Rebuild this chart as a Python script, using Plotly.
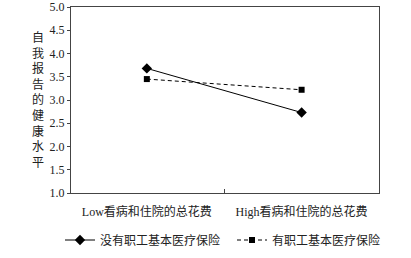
import plotly.graph_objects as go

categories = ["Low看病和住院的总花费", "High看病和住院的总花费"]
no_insurance = [3.68, 2.73]
with_insurance = [3.45, 3.22]
series_names = ["没有职工基本医疗保险", "有职工基本医疗保险"]
y_title = "自我报告的健康水平"
y_ticks = [1.0, 1.5, 2.0, 2.5, 3.0, 3.5, 4.0, 4.5, 5.0]

FONT = "Liberation Serif, Times New Roman, Noto Sans CJK SC, serif"

fig = go.Figure()
fig.add_trace(go.Scatter(
    x=categories, y=no_insurance, name=series_names[0], mode="lines+markers",
    line=dict(color="black", width=1),
    marker=dict(symbol="diamond", size=8, color="black"),
    legend="legend",
))
fig.add_trace(go.Scatter(
    x=categories, y=with_insurance, name=series_names[1], mode="lines+markers",
    line=dict(color="black", width=1, dash="4px,3px"),
    marker=dict(symbol="square", size=6, color="black"),
    legend="legend2",
))

leg_common = dict(orientation="h", xanchor="left", yanchor="middle",
                  xref="container", yref="container",
                  font=dict(size=12), bgcolor="rgba(0,0,0,0)")

fig.update_layout(
    width=411, height=258,
    margin=dict(l=71, r=32, t=7, b=65, autoexpand=False),
    paper_bgcolor="white", plot_bgcolor="white",
    font=dict(family=FONT, size=12, color="#222"),
    showlegend=True,
    legend=dict(x=60/411, y=(258-240)/258, **leg_common),
    legend2=dict(x=232/411, y=(258-240)/258, **leg_common),
    xaxis=dict(
        type="category", range=[-0.49, 1.5],
        showline=True, linecolor="#444", linewidth=1, mirror=True,
        ticks="inside", ticklen=4, tickcolor="#444", tickson="boundaries",
        showgrid=False, tickfont=dict(size=12), ticklabelstandoff=8,
    ),
    yaxis=dict(
        range=[1.0, 5.0], tickvals=y_ticks, ticktext=[f"{v:.1f}" for v in y_ticks],
        showline=True, linecolor="#444", linewidth=1, mirror=True,
        ticks="outside", ticklen=3, tickcolor="#444",
        showgrid=False, zeroline=False, tickfont=dict(size=12),
    ),
)

fig.add_annotation(
    text="<br>".join(list(y_title)), xref="paper", yref="paper",
    x=-0.106, y=0.5, xanchor="center", yanchor="middle", showarrow=False,
    font=dict(size=12, family=FONT), align="center",
)

fig.write_html("out.html", config={"displayModeBar": False},
               post_script="document.body.style.margin='0';")
